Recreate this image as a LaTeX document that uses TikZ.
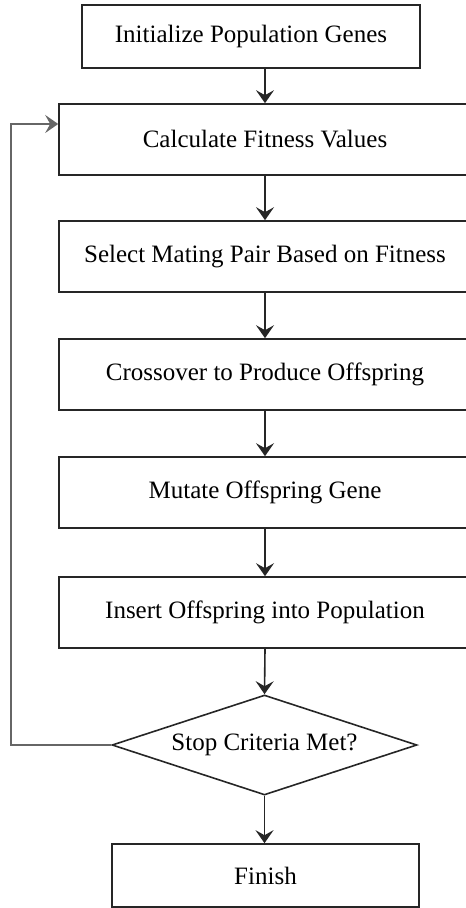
\documentclass[tikz,border=0pt]{standalone}
\usepackage{fontspec}
\setmainfont{Liberation Serif}
\usetikzlibrary{shapes.geometric}
\usetikzlibrary{arrows.meta}
\colorlet{linegray}{black!85}
\colorlet{loopgray}{black!60}

\begin{document}
\begin{tikzpicture}[x=0.5pt,y=-0.5pt,
    stepbox/.style={draw=linegray,line width=0.8pt,inner sep=0pt,
      minimum width=206pt,minimum height=35.5pt,font=\fontsize{12.5}{15}\selectfont},
    endbox/.style={stepbox,minimum width=169pt,minimum height=31.5pt},
    testbox/.style={stepbox,diamond,aspect=3.05,minimum width=152.5pt,minimum height=50pt},
    flow/.style={draw=linegray,line width=0.8pt,-{Stealth[length=6.5pt,width=9pt,inset=2.5pt]}}]

      \useasboundingbox (0,0) rectangle (465,908);

      \node[endbox] (init) at (251,36.5) {Initialize Population Genes};
      \node[stepbox] (fitness) at (265,139.5) {Calculate Fitness Values};
      \node[stepbox] (select) at (265,256.5) {Select Mating Pair Based on Fitness};
      \node[stepbox] (cross) at (265,374.5) {Crossover to Produce Offspring};
      \node[stepbox] (mutate) at (265,492.5) {Mutate Offspring Gene};
      \node[stepbox] (insert) at (265,612.5) {Insert Offspring into Population};
      \node[testbox] (stop) at (264.5,745) {Stop Criteria Met?};
      \node[endbox,minimum width=153.5pt] (finish) at (265.5,875.5) {Finish};

      \coordinate (spine) at (265,0);
      \coordinate (back) at (11,124);

      \draw[flow] (init.south -| spine) -- (fitness.north -| spine);
      \draw[flow] (fitness.south -| spine) -- (select.north -| spine);
      \draw[flow] (select.south -| spine) -- (cross.north -| spine);
      \draw[flow] (cross.south -| spine) -- (mutate.north -| spine);
      \draw[flow] (mutate.south -| spine) -- (insert.north -| spine);
      \draw[flow] (insert.south -| spine) -- (stop.north);
      \draw[flow] (stop.south) -- (finish.north -| stop.south);
      \draw[flow,draw=loopgray] (stop.west) -| (back) -- (fitness.west |- back);

\end{tikzpicture}
\end{document}
